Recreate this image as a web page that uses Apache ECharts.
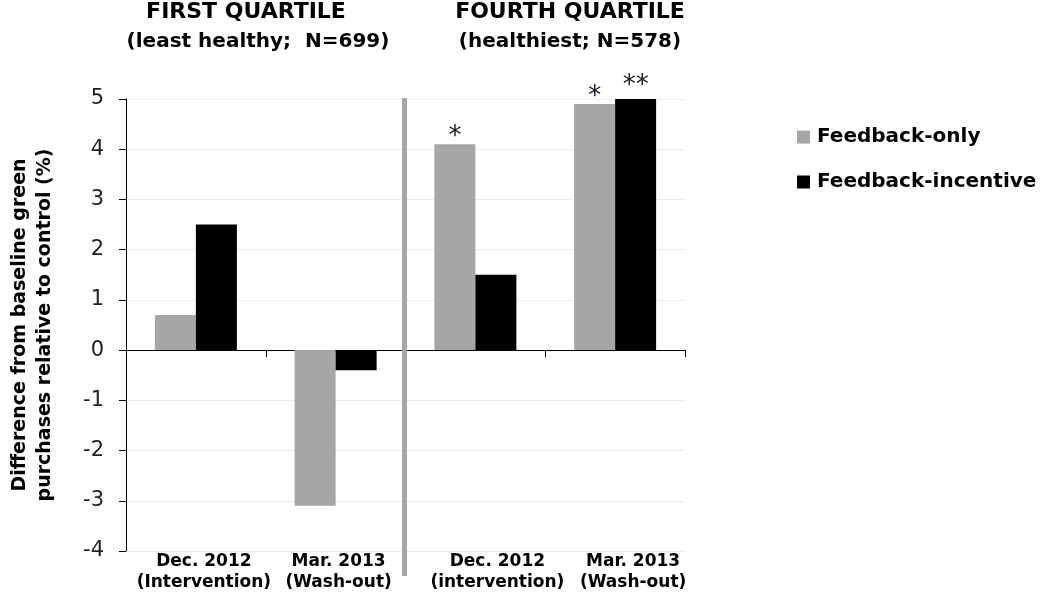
<!DOCTYPE html>
<html>
<head>
<meta charset="utf-8">
<script src="https://cdn.jsdelivr.net/npm/echarts@6/dist/echarts.min.js"></script>
<style>
  html, body { margin: 0; padding: 0; background: #fff; }
  #chart { width: 1050px; height: 596px; }
</style>
</head>
<body>
<div id="chart"></div>
<script>
// ---- data ----
const categories = [
  'Dec. 2012\n(Intervention)',
  'Mar. 2013\n(Wash-out)',
  'Dec. 2012\n(intervention)',
  'Mar. 2013\n(Wash-out)'
];
const seriesNames = ['Feedback-only', 'Feedback-incentive'];
const feedbackOnly = [0.7, -3.1, 4.1, 4.9];
const feedbackIncentive = [2.5, -0.4, 1.5, 5.0];
const sigFeedbackOnly = ['', '', '*', '*'];
const sigFeedbackIncentive = ['', '', '', '**'];
const yMin = -4, yMax = 5, yInterval = 1;
const yAxisTitle = 'Difference from baseline green\npurchases relative to control (%)';
const panelTitles = [
  ['FIRST QUARTILE', '(least healthy;  N=699)'],
  ['FOURTH QUARTILE', '(healthiest; N=578)']
];

// ---- styling ----
const FONT = '"DejaVu Sans", "Liberation Sans", Arial, sans-serif';
const GRAY = '#a6a6a6';
const BLACK = '#000000';
const labelShift = [16, 6, 44, 36];

const chart = echarts.init(document.getElementById('chart'), null, { renderer: 'canvas' });

const rich = {};
labelShift.forEach((s, i) => {
  rich['o' + i] = {
    fontFamily: FONT, fontWeight: 'bold', fontSize: 17, lineHeight: 21,
    color: '#000', padding: [0, 0, 0, s]
  };
});

function titleText(id, text, x, y, size) {
  return {
    id: id, type: 'text', x: x, y: y, silent: true,
    style: {
      text: text, fill: '#000',
      font: 'bold ' + size + 'px ' + FONT,
      align: 'center', verticalAlign: 'middle',
      textAlign: 'center', textVerticalAlign: 'middle'
    }
  };
}

function titleGraphics() {
  return [
    titleText('t1a', panelTitles[0][0], 246, 12, 22),
    titleText('t1b', panelTitles[0][1], 258, 42, 20),
    titleText('t2a', panelTitles[1][0], 570, 12, 22),
    titleText('t2b', panelTitles[1][1], 570, 42, 20)
  ];
}

const option = {
  animation: false,
  backgroundColor: '#fff',
  grid: { left: 122, right: 365, top: 99, bottom: 45, containLabel: false },
  legend: {
    data: seriesNames,
    orient: 'vertical',
    left: 797,
    top: 125,
    padding: 0,
    icon: 'rect',
    itemWidth: 13,
    itemHeight: 13,
    itemGap: 21,
    textStyle: {
      fontFamily: FONT, fontWeight: 'bold', fontSize: 20, lineHeight: 24,
      color: '#000', padding: [0, 0, 0, 2]
    }
  },
  xAxis: [
    {
      type: 'category',
      data: categories,
      position: 'bottom',
      boundaryGap: true,
      axisLine: { show: true, onZero: true, lineStyle: { color: '#000', width: 1 } },
      axisTick: { show: true, length: 7, inside: false, alignWithLabel: false, lineStyle: { color: '#000' } },
      axisLabel: { show: false },
      splitLine: { show: false }
    },
    {
      type: 'category',
      data: categories,
      position: 'bottom',
      boundaryGap: true,
      axisLine: { show: false, onZero: false },
      axisTick: { show: false },
      splitLine: { show: false },
      axisLabel: {
        show: true,
        interval: 0,
        margin: 0,
        formatter: function (value, index) {
          return value.split('\n').map(l => '{o' + index + '|' + l + '}').join('\n');
        },
        rich: rich
      }
    }
  ],
  yAxis: {
    type: 'value',
    min: yMin,
    max: yMax,
    interval: yInterval,
    name: yAxisTitle,
    nameLocation: 'middle',
    nameRotate: 90,
    nameGap: 68,
    nameTextStyle: {
      fontFamily: FONT, fontWeight: 'bold', fontSize: 19, lineHeight: 25, color: '#000'
    },
    axisLine: { show: true, lineStyle: { color: '#000', width: 1 } },
    axisTick: { show: true, length: 7, inside: false, lineStyle: { color: '#000' } },
    axisLabel: { fontFamily: FONT, fontSize: 21, color: '#222', margin: 22 },
    splitLine: { show: true, lineStyle: { color: '#ececec', width: 1 } }
  },
  series: [
    {
      name: seriesNames[0],
      type: 'bar',
      data: feedbackOnly,
      barWidth: 41,
      barGap: '0%',
      itemStyle: { color: GRAY },
      label: {
        show: true, position: 'top', distance: -6,
        formatter: p => sigFeedbackOnly[p.dataIndex],
        fontFamily: FONT, fontSize: 26, color: '#1a1a2a'
      }
    },
    {
      name: seriesNames[1],
      type: 'bar',
      data: feedbackIncentive,
      barWidth: 41,
      barGap: '0%',
      itemStyle: { color: BLACK },
      label: {
        show: true, position: 'top', distance: 0,
        formatter: p => sigFeedbackIncentive[p.dataIndex],
        fontFamily: FONT, fontSize: 26, color: '#1a1a2a'
      }
    }
  ],
  graphic: titleGraphics()
};

chart.setOption(option);

// separator between the two quartile panels, placed via the axes
const xa = chart.convertToPixel({ xAxisIndex: 0 }, 1);
const xb = chart.convertToPixel({ xAxisIndex: 0 }, 2);
const xs = (xa + xb) / 2 - 1;
const yTop = chart.convertToPixel({ yAxisIndex: 0 }, yMax) - 1;
const yBot = chart.convertToPixel({ yAxisIndex: 0 }, yMin) + 25;
chart.setOption({
  graphic: titleGraphics().concat([
    {
      id: 'sep', type: 'line', silent: true, z: 10,
      shape: { x1: xs, y1: yTop, x2: xs, y2: yBot },
      style: { stroke: GRAY, lineWidth: 5 }
    }
  ])
});
</script>
</body>
</html>
